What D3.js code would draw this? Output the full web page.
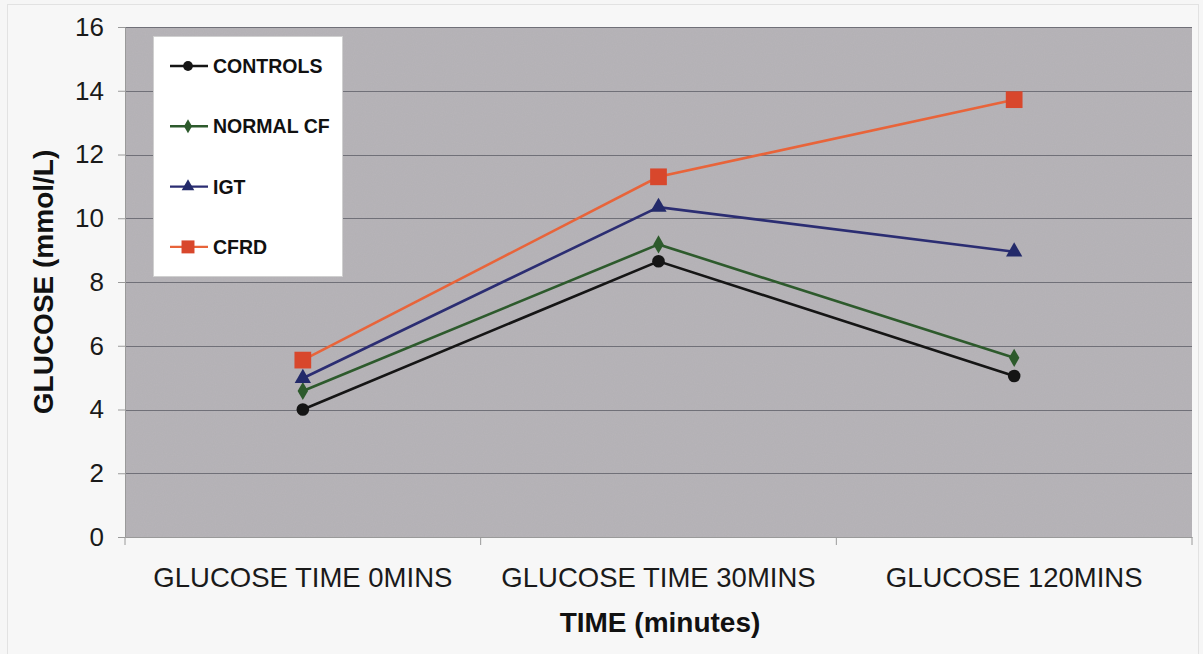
<!DOCTYPE html>
<html>
<head>
<meta charset="utf-8">
<script src="https://cdn.jsdelivr.net/npm/d3@7"></script>
<style>
  body { margin: 0; background: #f6f6f6; }
  text { font-family: "Liberation Sans", Arial, sans-serif; }
</style>
</head>
<body>
<script>
const width = 1203;
const height = 654;
const margin = { left: 125, top: 27, right: 11, bottom: 117 };

const categories = ["GLUCOSE TIME 0MINS", "GLUCOSE TIME 30MINS", "GLUCOSE 120MINS"];
const controls = [4.0, 8.65, 5.05];
const normalCF = [4.58, 9.18, 5.62];
const igt = [4.98, 10.35, 8.95];
const cfrd = [5.55, 11.3, 13.72];
const yTicks = [0, 2, 4, 6, 8, 10, 12, 14, 16];

const series = [
  { name: "CONTROLS", values: controls, color: "#151515", fill: "#151515", symbol: d3.symbolCircle, size: 125 },
  { name: "NORMAL CF", values: normalCF, color: "#2d5a2c", fill: "#2d5a2c", symbol: d3.symbolDiamond, size: 95 },
  { name: "IGT", values: igt, color: "#2b2d72", fill: "#232a6a", symbol: d3.symbolTriangle, size: 115 },
  { name: "CFRD", values: cfrd, color: "#e8643a", fill: "#d8472c", symbol: d3.symbolSquare, size: 280 }
];

const svg = d3.select("body").append("svg")
    .attr("width", width)
    .attr("height", height);

// outer frame
svg.append("rect")
    .attr("x", 7.5).attr("y", 4.5)
    .attr("width", 1191).attr("height", 660)
    .attr("fill", "#f7f7f7")
    .attr("stroke", "#e2e2e2");

// grainy texture for the plot area
const defs = svg.append("defs");
const f = defs.append("filter").attr("id", "grain").attr("x", 0).attr("y", 0).attr("width", 1).attr("height", 1);
f.append("feTurbulence").attr("type", "fractalNoise").attr("baseFrequency", 0.9).attr("numOctaves", 2).attr("result", "noise");
f.append("feColorMatrix").attr("in", "noise").attr("type", "matrix")
    .attr("values", "0 0 0 0 0.6  0 0 0 0 0.6  0 0 0 0 0.62  0 0 0 0.15 0").attr("result", "n2");
f.append("feComposite").attr("in", "n2").attr("in2", "SourceGraphic").attr("operator", "atop");

const x = d3.scaleBand()
    .domain(categories)
    .range([margin.left, width - margin.right]);

const y = d3.scaleLinear()
    .domain([0, 16])
    .range([height - margin.bottom, margin.top]);

svg.append("rect")
    .attr("x", margin.left).attr("y", margin.top)
    .attr("width", width - margin.left - margin.right)
    .attr("height", height - margin.top - margin.bottom)
    .attr("fill", "#b3b0b4")
    .attr("filter", "url(#grain)");

// gridlines
svg.append("g")
    .selectAll("line")
    .data(yTicks.filter(d => d > 0))
    .join("line")
    .attr("x1", margin.left).attr("x2", width - margin.right)
    .attr("y1", d => Math.round(y(d)) + 0.5).attr("y2", d => Math.round(y(d)) + 0.5)
    .attr("stroke", "#707078");

// y axis
const yAxis = svg.append("g")
    .attr("transform", `translate(${margin.left},0)`)
    .call(d3.axisLeft(y).tickValues(yTicks).tickSize(7).tickPadding(14));
yAxis.select(".domain").attr("stroke", "#9a9a9a");
yAxis.selectAll(".tick line").attr("stroke", "#9a9a9a");
yAxis.selectAll(".tick text")
    .attr("font-size", 26)
    .attr("fill", "#1a1a1a")
    .style("font-family", "'Liberation Sans', Arial, sans-serif");

// x axis
const xAxis = svg.append("g")
    .attr("transform", `translate(0,${height - margin.bottom})`)
    .call(d3.axisBottom(x).tickSize(0).tickPadding(33));
xAxis.select(".domain").attr("stroke", "#9a9a9a");
xAxis.selectAll(".tick text")
    .attr("font-size", 27.5)
    .attr("fill", "#1a1a1a")
    .attr("dy", "0.6em")
    .style("font-family", "'Liberation Sans', Arial, sans-serif");
xAxis.append("g")
    .selectAll("line")
    .data(categories.concat(["end"]))
    .join("line")
    .attr("x1", (d, i) => margin.left + i * x.bandwidth())
    .attr("x2", (d, i) => margin.left + i * x.bandwidth())
    .attr("y1", 0).attr("y2", 8)
    .attr("stroke", "#9a9a9a");

// lines and markers
const line = d3.line()
    .x((d, i) => x(categories[i]) + x.bandwidth() / 2)
    .y(d => y(d));

series.forEach(s => {
  svg.append("path")
      .datum(s.values)
      .attr("d", line)
      .attr("fill", "none")
      .attr("stroke", s.color)
      .attr("stroke-width", 2.6);
  svg.append("g")
      .selectAll("path")
      .data(s.values)
      .join("path")
      .attr("transform", (d, i) => `translate(${x(categories[i]) + x.bandwidth() / 2},${y(d)})`)
      .attr("d", d3.symbol().type(s.symbol).size(s.size))
      .attr("fill", s.fill);
});

// legend
const legend = svg.append("g");
legend.append("rect")
    .attr("x", 153.5).attr("y", 36.5)
    .attr("width", 189).attr("height", 240)
    .attr("fill", "#ffffff")
    .attr("stroke", "#d0d0d0");

series.forEach((s, i) => {
  const ly = 66 + i * 60.3;
  legend.append("line")
      .attr("x1", 170).attr("x2", 208)
      .attr("y1", ly).attr("y2", ly)
      .attr("stroke", s.color)
      .attr("stroke-width", 2.4);
  legend.append("path")
      .attr("transform", `translate(188,${ly})`)
      .attr("d", d3.symbol().type(s.symbol).size(s.size * 0.6))
      .attr("fill", s.fill);
  legend.append("text")
      .attr("x", 213).attr("y", ly + 7)
      .attr("font-size", 19.5)
      .attr("font-weight", "bold")
      .attr("fill", "#111")
      .text(s.name);
});

// axis titles
svg.append("text")
    .attr("transform", `translate(53,282) rotate(-90)`)
    .attr("text-anchor", "middle")
    .attr("font-size", 28)
    .attr("font-weight", "bold")
    .attr("fill", "#111")
    .text("GLUCOSE (mmol/L)");

svg.append("text")
    .attr("x", 660).attr("y", 632)
    .attr("text-anchor", "middle")
    .attr("font-size", 28)
    .attr("font-weight", "bold")
    .attr("fill", "#111")
    .text("TIME (minutes)");
</script>
</body>
</html>
